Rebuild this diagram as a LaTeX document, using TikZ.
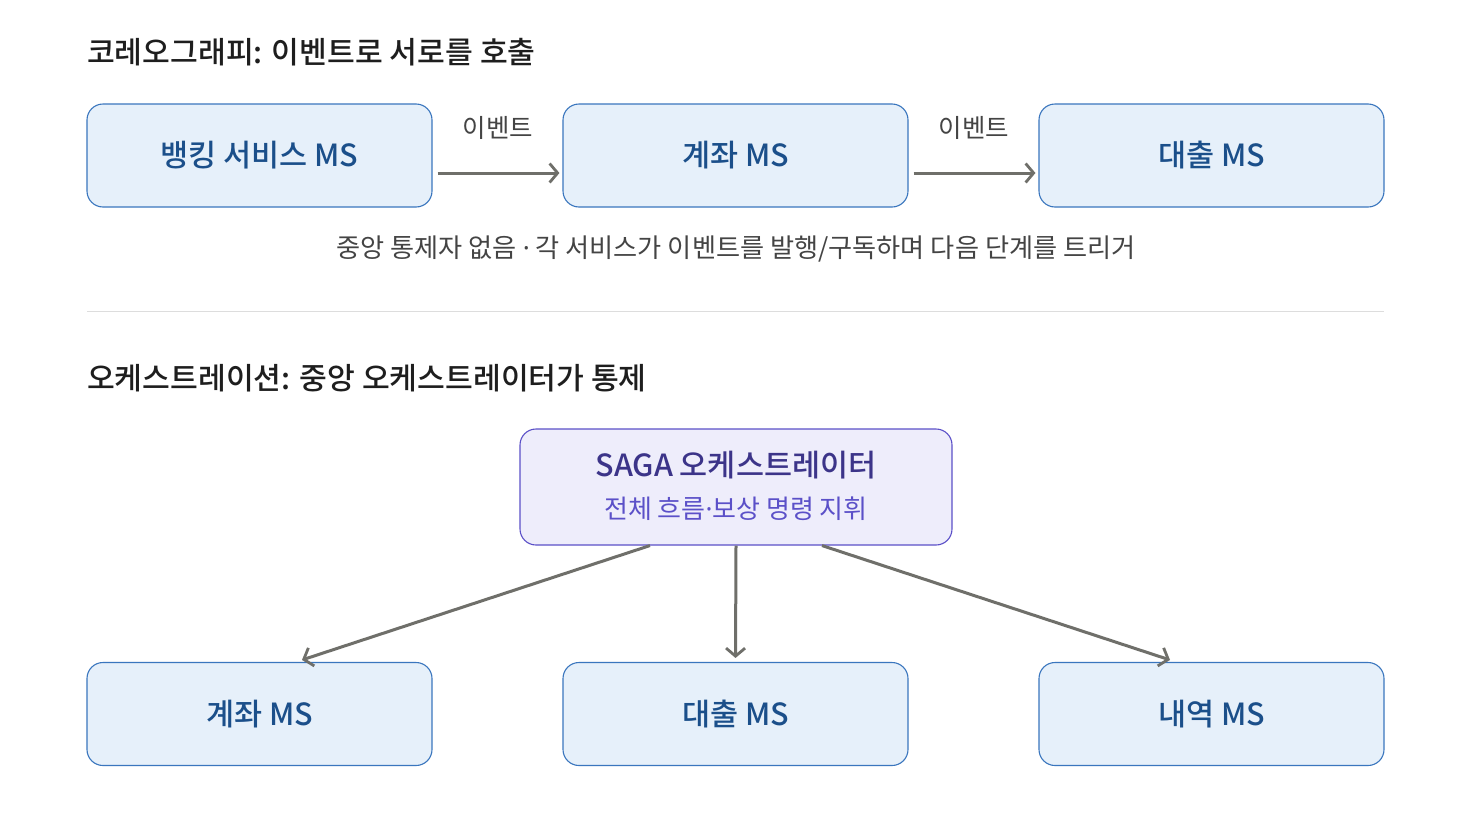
\documentclass[tikz,border=0pt]{standalone}
\usepackage{fontspec}
\setmainfont{Noto Sans CJK KR}[BoldFont={Noto Sans CJK KR Medium}]
\newfontfamily\latinf{Noto Sans}
\usetikzlibrary{arrows.meta,positioning}
\definecolor{boxfill}{HTML}{E6F0FA}
\definecolor{boxdraw}{HTML}{3A76BE}
\definecolor{boxtext}{HTML}{1B4F8A}
\definecolor{orfill}{HTML}{EEEDFB}
\definecolor{ordraw}{HTML}{5B50C8}
\definecolor{ortext}{HTML}{3C3489}
\definecolor{orsub}{HTML}{5B50C8}
\definecolor{arr}{HTML}{6F6F6A}
\definecolor{ttl}{HTML}{1E1E1E}
\definecolor{cap}{HTML}{444444}
\definecolor{sep}{HTML}{DDDDDD}
\newcommand{\mdot}{{\latinf ·}}
\tikzset{
  msbox/.style={draw=boxdraw, line width=1.1pt, fill=boxfill, rounded corners=16pt,
    minimum width=345pt, minimum height=103pt, inner sep=0pt,
    font=\fontsize{30.5}{34}\selectfont\bfseries, text=boxtext},
  orbox/.style={draw=ordraw, line width=1.1pt, fill=orfill, rounded corners=16pt,
    minimum width=432pt, minimum height=116pt, inner sep=0pt},
  ttlstyle/.style={anchor=west, inner sep=0pt, text=ttl, font=\fontsize{30.2}{34}\selectfont\bfseries},
  lbl/.style={inner sep=0pt, text=cap, font=\fontsize{25.5}{29}\selectfont},
  conn/.style={draw=arr, line width=3pt, -{Straight Barb[length=8pt,width=19pt,line width=2.8pt]}},
}
\begin{document}
\begin{tikzpicture}[x=1pt,y=-1pt]
\useasboundingbox (0,0) rectangle (1472,822);
\fill[white] (0,0) rectangle (1472,822);
% section 1
\node[ttlstyle] (t1) at (87,52) {코레오그래피: 이벤트로 서로를 호출};
\node[msbox] (a1) at (259.5,155.5) {뱅킹 서비스 MS};
\node[msbox] (a2) at (735.5,155.5) {계좌 MS};
\node[msbox] (a3) at (1211.5,155.5) {대출 MS};
\draw[conn] ([shift={(5pt,-17.5pt)}]a1.east) -- ([shift={(-3pt,-17.5pt)}]a2.west);
\draw[conn] ([shift={(5pt,-17.5pt)}]a2.east) -- ([shift={(-3pt,-17.5pt)}]a3.west);
\node[lbl] (e1) at (498,128) {이벤트};
\node[lbl] (e2) at (974,128) {이벤트};
\node[lbl, font=\fontsize{26.2}{30}\selectfont] (c1) at (736,249) {중앙 통제자 없음 \mdot{} 각 서비스가 이벤트를 발행/구독하며 다음 단계를 트리거};
% separator
\coordinate (s1) at (87,311);
\coordinate (s2) at (1384,311);
\draw[sep, line width=1pt] (s1) -- (s2);
% section 2
\node[ttlstyle] (t2) at (87,378) {오케스트레이션: 중앙 오케스트레이터가 통제};
\node[orbox] (o) at (736,487) {};
\node[inner sep=0pt, text=ortext, font=\fontsize{30.5}{34}\selectfont\bfseries] (ot) at (736,465) {SAGA 오케스트레이터};
\node[inner sep=0pt, text=orsub, font=\fontsize{26}{29}\selectfont] (os) at (736,509) {전체 흐름\mdot{}보상 명령 지휘};
\node[msbox] (b1) at (259.5,714) {계좌 MS};
\node[msbox] (b2) at (735.5,714) {대출 MS};
\node[msbox] (b3) at (1211.5,714) {내역 MS};
\draw[conn] ([xshift=-86pt]o.south) -- ([shift={(42.5pt,2pt)}]b1.north);
\draw[conn] (o.south) -- ([yshift=4pt]b2.north);
\draw[conn] ([xshift=86pt]o.south) -- ([shift={(-41.5pt,2pt)}]b3.north);
\end{tikzpicture}
\end{document}
